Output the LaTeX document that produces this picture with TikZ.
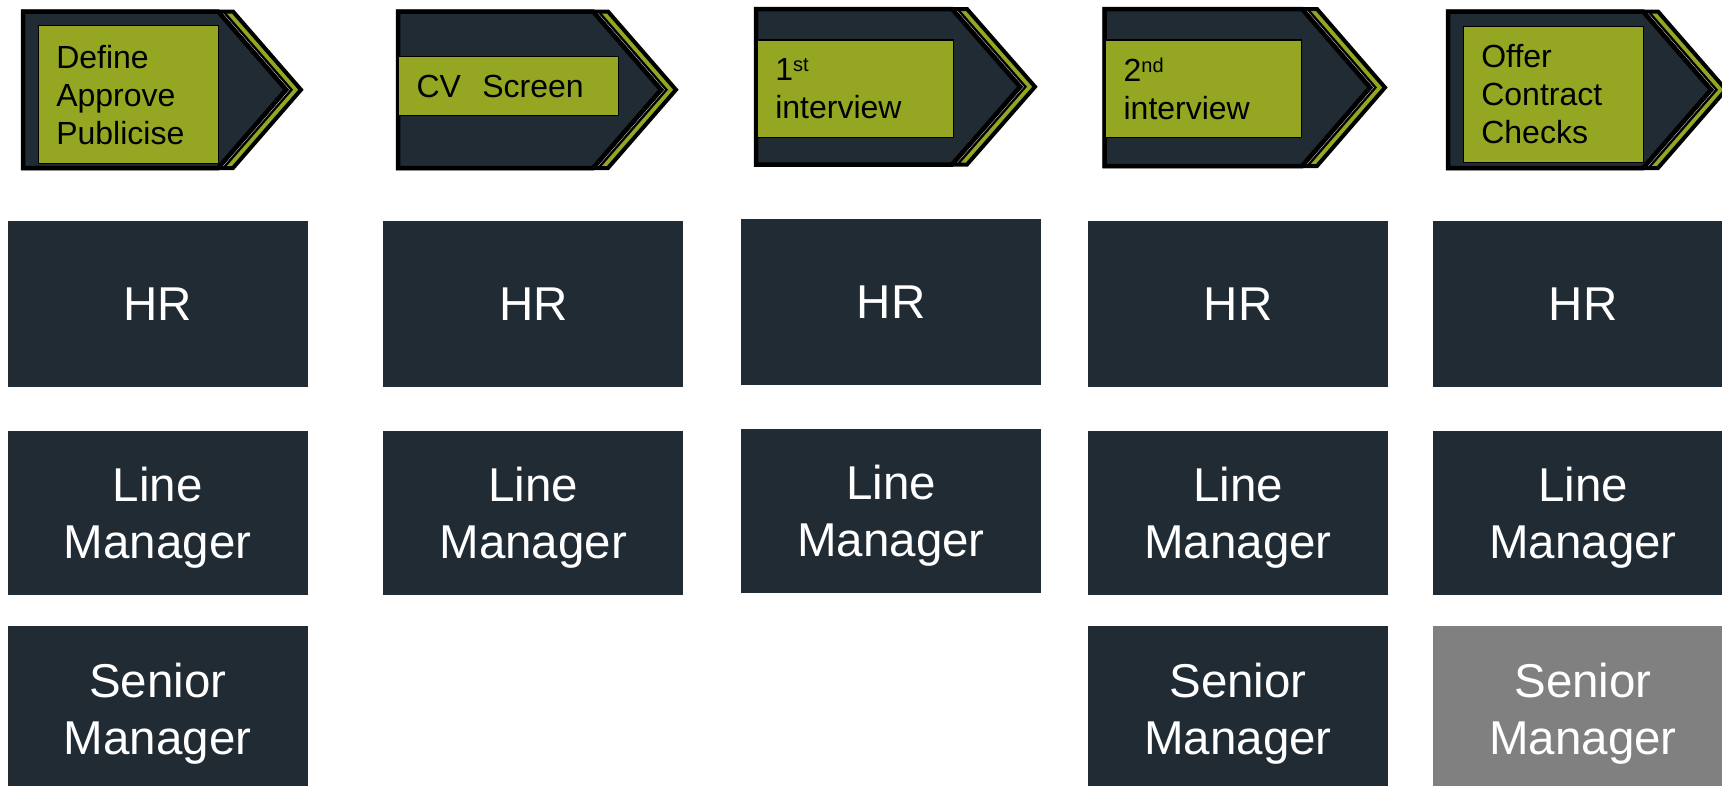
\documentclass[tikz,border=0pt]{standalone}
\usepackage{fontspec}
\setmainfont{Liberation Sans}

\definecolor{slate}{RGB}{33,43,51}
\definecolor{moss}{RGB}{148,166,34}
\definecolor{muted}{RGB}{128,128,128}

\tikzset{
  role/.style={fill=slate, text=white, minimum width=300pt, minimum height=166pt,
    align=center, inner sep=0pt, font=\fontsize{47.5}{57}\selectfont},
  tworows/.style={text depth=0pt},
  task/.style={fill=moss, draw=black, line width=1.2pt, anchor=north west,
    align=left, inner xsep=18pt, inner ysep=0pt, font=\fontsize{32}{38}\selectfont},
  chevron/.style={line join=miter},
}

% stage arrow: left, top, bottom, tip x
\newcommand\stagearrow[4]{%
  \draw[chevron, fill=moss, draw=black, line width=4pt] (#1,#2) -- (#4-68+15,#2)
    -- (#4+15,{(#2+#3)/2}) -- (#4-68+15,#3) -- (#1,#3) -- cycle;
  \fill[black] (#1,#2) -- (#4-68+7,#2) -- (#4+7,{(#2+#3)/2}) -- (#4-68+7,#3) -- (#1,#3) -- cycle;
  \draw[black!25, line width=0.6pt] (#4-68+3.4+1.7,#2+2) -- (#4+3.4,{(#2+#3)/2}) -- (#4-68+3.4+1.7,#3-2);
  \draw[chevron, fill=slate, draw=black, line width=4.5pt] (#1,#2) -- (#4-68,#2)
    -- (#4,{(#2+#3)/2}) -- (#4-68,#3) -- (#1,#3) -- cycle;
}
\newcommand\ord[1]{\raisebox{9pt}{\fontsize{20}{20}\selectfont #1}}

\begin{document}
\begin{tikzpicture}[x=1pt,y=-1pt]
  \useasboundingbox (0,0) rectangle (1722,785);
  \clip (0,0) rectangle (1722,785);

  % stages
  \stagearrow{23}{11.5}{168}{286}
  \stagearrow{398}{11.5}{168}{661}
  \stagearrow{756}{9}{164.5}{1020}
  \stagearrow{1104.5}{9}{166}{1370}
  \stagearrow{1448}{11.5}{168}{1711}

  \node[task, text width=144pt, minimum height=138pt] (define) at (37.7,25) {Define\\Approve\\Publicise};
  \node[task, text width=184pt, minimum height=59pt] (screen) at (398,56) {CV\ \ Screen};
  \node[task, text width=160pt, minimum height=97.4pt] (first) at (756.7,39.3) {1\ord{st}\\interview};
  \node[task, text width=160pt, minimum height=97.4pt] (second) at (1105,39.3) {2\ord{nd}\\interview};
  \node[task, text width=144pt, minimum height=135.7pt] (offer) at (1462.7,26) {Offer\\Contract\\Checks};

  % who is involved
  \foreach \i/\x/\y in {1/157.7/303.8, 2/533.3/303.8, 3/891/302, 4/1238/303.8, 5/1583/303.8} {
    \node[role] (hr\i) at (\x,\y) {HR};
    \node[role, tworows, minimum height=164pt] (line\i) at (\x,\y+208.7) {Line\\Manager};
  }
  \node[role, tworows] (senior1) at (157.7,709) {Senior\\Manager};
  \node[role, tworows] (senior4) at (1238,709) {Senior\\Manager};
  \node[role, tworows, fill=muted] (senior5) at (1583,709) {Senior\\Manager};
\end{tikzpicture}
\end{document}
